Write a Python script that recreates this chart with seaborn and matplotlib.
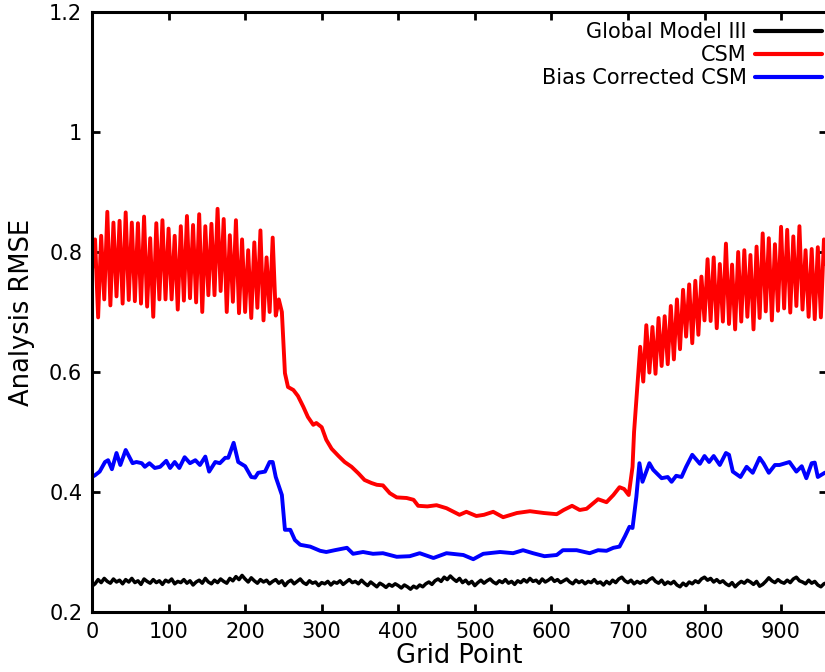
import numpy as np
import seaborn as sns
import matplotlib.pyplot as plt

# ---- data ----
# Global Model III: one value every 4 grid points (0..960)
gm3_x = np.arange(0, 961, 4)
gm3_rmse = [
    0.243, 0.247, 0.254, 0.249, 0.256, 0.251, 0.248, 0.255, 0.250, 0.253, 0.247, 0.254, 0.250, 0.256, 0.249, 0.252, 0.246, 0.255, 0.251, 0.248,
    0.254, 0.249, 0.252, 0.246, 0.253, 0.250, 0.255, 0.247, 0.251, 0.249, 0.254, 0.248, 0.252, 0.245, 0.250, 0.253, 0.248, 0.256, 0.250, 0.247,
    0.253, 0.249, 0.255, 0.251, 0.248, 0.256, 0.252, 0.259, 0.254, 0.261, 0.255, 0.250, 0.257, 0.252, 0.248, 0.254, 0.250, 0.253, 0.247, 0.251,
    0.254, 0.248, 0.252, 0.244, 0.250, 0.253, 0.247, 0.251, 0.255, 0.249, 0.246, 0.252, 0.248, 0.250, 0.244, 0.249, 0.247, 0.251, 0.245, 0.250,
    0.248, 0.252, 0.246, 0.250, 0.254, 0.249, 0.251, 0.247, 0.253, 0.248, 0.244, 0.250, 0.246, 0.242, 0.248, 0.245, 0.241, 0.246, 0.243, 0.247,
    0.244, 0.240, 0.245, 0.242, 0.238, 0.243, 0.240, 0.245, 0.242, 0.247, 0.250, 0.246, 0.252, 0.255, 0.251, 0.258, 0.254, 0.260, 0.255, 0.251,
    0.256, 0.249, 0.253, 0.247, 0.251, 0.244, 0.249, 0.253, 0.248, 0.252, 0.255, 0.250, 0.247, 0.252, 0.249, 0.254, 0.248, 0.251, 0.246, 0.252,
    0.249, 0.254, 0.250, 0.256, 0.251, 0.253, 0.248, 0.255, 0.250, 0.253, 0.257, 0.251, 0.254, 0.249, 0.252, 0.255, 0.250, 0.247, 0.253, 0.249,
    0.252, 0.247, 0.251, 0.249, 0.254, 0.248, 0.250, 0.245, 0.251, 0.247, 0.253, 0.249, 0.255, 0.258, 0.252, 0.249, 0.253, 0.247, 0.251, 0.248,
    0.252, 0.249, 0.254, 0.257, 0.251, 0.248, 0.253, 0.246, 0.250, 0.247, 0.251, 0.245, 0.242, 0.248, 0.244, 0.250, 0.247, 0.252, 0.249, 0.255,
    0.258, 0.253, 0.256, 0.250, 0.254, 0.249, 0.252, 0.247, 0.244, 0.249, 0.242, 0.247, 0.251, 0.248, 0.253, 0.250, 0.246, 0.251, 0.243, 0.246,
    0.251, 0.257, 0.252, 0.249, 0.254, 0.250, 0.248, 0.253, 0.249, 0.255, 0.258, 0.252, 0.250, 0.247, 0.253, 0.248, 0.251, 0.245, 0.242, 0.247,
    0.249,
]

# CSM, left oscillating part: peaks at 4, 12, ..., 236 and troughs at 8, 16, ..., 240
csm_left_hi = [0.821, 0.827, 0.867, 0.849, 0.852, 0.866, 0.849, 0.848, 0.859, 0.823,
               0.848, 0.853, 0.839, 0.827, 0.843, 0.860, 0.845, 0.863, 0.843, 0.847,
               0.872, 0.855, 0.828, 0.853, 0.821, 0.803, 0.816, 0.836, 0.791, 0.824]
csm_left_lo = [0.691, 0.721, 0.711, 0.726, 0.714, 0.720, 0.718, 0.714, 0.709, 0.692,
               0.721, 0.721, 0.721, 0.704, 0.719, 0.723, 0.716, 0.700, 0.728, 0.728,
               0.735, 0.700, 0.717, 0.698, 0.700, 0.690, 0.707, 0.686, 0.700, 0.694]
# CSM, smooth middle part
csm_mid_x = [244, 248, 252, 256, 263, 269, 276, 282, 289, 293, 300, 306, 313, 322, 330,
             339, 348, 356, 365, 372, 380, 389, 398, 411, 420, 426, 438, 450, 463, 480,
             489, 502, 512, 524, 537, 555, 572, 590, 607, 616, 627, 637, 646, 661, 672,
             681, 689, 695, 701, 706, 708, 712]
csm_mid = [0.721, 0.700, 0.598, 0.575, 0.570, 0.560, 0.542, 0.525, 0.512, 0.515, 0.508,
           0.487, 0.472, 0.460, 0.450, 0.442, 0.431, 0.420, 0.415, 0.412, 0.411, 0.398,
           0.391, 0.390, 0.387, 0.377, 0.376, 0.378, 0.373, 0.362, 0.367, 0.360, 0.362,
           0.367, 0.358, 0.365, 0.368, 0.365, 0.363, 0.370, 0.377, 0.370, 0.372, 0.388,
           0.383, 0.395, 0.408, 0.405, 0.395, 0.442, 0.500, 0.570]
# CSM, right oscillating part: peaks at 716, ..., 956 and troughs at 720, ..., 952
csm_right_hi = [0.642, 0.678, 0.675, 0.690, 0.693, 0.710, 0.721, 0.737, 0.746, 0.752,
                0.759, 0.788, 0.791, 0.780, 0.814, 0.779, 0.800, 0.803, 0.795, 0.809,
                0.831, 0.823, 0.813, 0.842, 0.837, 0.826, 0.843, 0.803, 0.805, 0.808,
                0.821]
csm_right_lo = [0.584, 0.599, 0.597, 0.610, 0.613, 0.621, 0.638, 0.659, 0.648, 0.662,
                0.686, 0.685, 0.673, 0.684, 0.680, 0.671, 0.684, 0.692, 0.671, 0.690,
                0.701, 0.686, 0.702, 0.706, 0.699, 0.710, 0.704, 0.692, 0.688, 0.691]
csm_first = 0.77
csm_last = 0.76

# Bias corrected CSM
bc_x = [0, 4, 10, 17, 21, 26, 32, 37, 44, 53, 58, 65, 69, 75, 82, 89, 97, 102, 108, 114,
        121, 128, 135, 141, 148, 153, 161, 167, 174, 178, 185, 191, 200, 208, 213, 217,
        226, 232, 236, 240, 248, 252, 259, 265, 272, 285, 298, 306, 317, 333, 341, 354,
        367, 380, 398, 415, 428, 446, 463, 485, 498, 511, 533, 550, 563, 576, 591, 607,
        615, 633, 650, 661, 672, 681, 689, 696, 702, 706, 711, 715, 719, 728, 733, 744,
        752, 757, 763, 770, 776, 784, 794, 800, 806, 812, 820, 828, 832, 837, 847, 855,
        863, 872, 877, 884, 892, 898, 911, 920, 927, 933, 940, 944, 948, 957, 960]
bc_rmse = [0.425, 0.428, 0.434, 0.450, 0.453, 0.438, 0.465, 0.445, 0.470, 0.448, 0.450,
           0.448, 0.442, 0.448, 0.440, 0.442, 0.452, 0.440, 0.450, 0.440, 0.458, 0.448,
           0.453, 0.445, 0.459, 0.434, 0.450, 0.448, 0.457, 0.457, 0.482, 0.450, 0.443,
           0.425, 0.424, 0.432, 0.434, 0.450, 0.450, 0.425, 0.395, 0.337, 0.337, 0.320,
           0.312, 0.309, 0.302, 0.300, 0.303, 0.307, 0.297, 0.300, 0.297, 0.298, 0.292,
           0.293, 0.298, 0.290, 0.298, 0.295, 0.288, 0.297, 0.300, 0.298, 0.303, 0.298,
           0.293, 0.295, 0.303, 0.303, 0.298, 0.303, 0.302, 0.307, 0.309, 0.326, 0.342,
           0.340, 0.392, 0.448, 0.417, 0.448, 0.437, 0.423, 0.425, 0.417, 0.427, 0.425,
           0.442, 0.462, 0.447, 0.460, 0.450, 0.460, 0.445, 0.465, 0.462, 0.434, 0.425,
           0.442, 0.432, 0.457, 0.448, 0.432, 0.445, 0.445, 0.450, 0.434, 0.443, 0.423,
           0.448, 0.449, 0.425, 0.432, 0.433]

labels = ['Global Model III', 'CSM', 'Bias Corrected CSM']
colors = ['black', '#ff0000', '#0000ff']

# assemble the CSM curve from its pieces
left_x = np.arange(4, 244, 4)
left_y = np.column_stack([csm_left_hi, csm_left_lo]).ravel()
right_x = np.arange(716, 960, 4)
right_y = np.append(np.column_stack([csm_right_hi[:-1], csm_right_lo]).ravel(), csm_right_hi[-1])
csm_x = np.concatenate([[0], left_x, csm_mid_x, right_x, [960]])
csm_rmse = np.concatenate([[csm_first], left_y, csm_mid, right_y, [csm_last]])

# ---- plot ----
sns.set_style('ticks')
plt.rcParams['font.family'] = ['DejaVu Sans']
plt.rcParams['text.color'] = 'black'
plt.rcParams['axes.labelcolor'] = 'black'

fig = plt.figure(figsize=(8.25, 6.72), dpi=100)
ax = fig.add_axes([92 / 825, 60 / 672, 735 / 825, 600 / 672])

sns.lineplot(x=gm3_x, y=gm3_rmse, color=colors[0], lw=2.5, label=labels[0], ax=ax)
sns.lineplot(x=csm_x, y=csm_rmse, color=colors[1], lw=2.8, label=labels[1], ax=ax)
sns.lineplot(x=bc_x, y=bc_rmse, color=colors[2], lw=2.8, label=labels[2], ax=ax)

ax.set_xlim(0, 960)
ax.set_ylim(0.2, 1.2)
ax.set_xticks(range(0, 1000, 100))
ax.set_yticks([0.2, 0.4, 0.6, 0.8, 1.0, 1.2])
ax.set_yticklabels(['0.2', '0.4', '0.6', '0.8', '1', '1.2'])

for s in ax.spines.values():
    s.set_linewidth(2.2)
    s.set_color('black')
ax.tick_params(direction='in', length=6, width=2, top=True, right=True,
               labelsize=15, pad=7, colors='black')

ax.set_xlabel('Grid Point', fontsize=18.5, color='black')
ax.set_ylabel('Analysis RMSE', fontsize=18.5, color='black')
ax.xaxis.set_label_coords(0.5, -0.052)
ax.yaxis.set_label_coords(-0.077, 0.5)

leg = ax.legend(loc='upper right', bbox_to_anchor=(822 / 825, 1 - 22 / 672),
                bbox_transform=fig.transFigure, markerfirst=False, frameon=False,
                fontsize=15, handlelength=3.2, handletextpad=0.4,
                labelspacing=0.15, borderpad=0, borderaxespad=0)
for line in leg.get_lines():
    line.set_linewidth(3)
for t in leg.get_texts():
    t.set_color('black')

plt.savefig('out.png', dpi=100)
